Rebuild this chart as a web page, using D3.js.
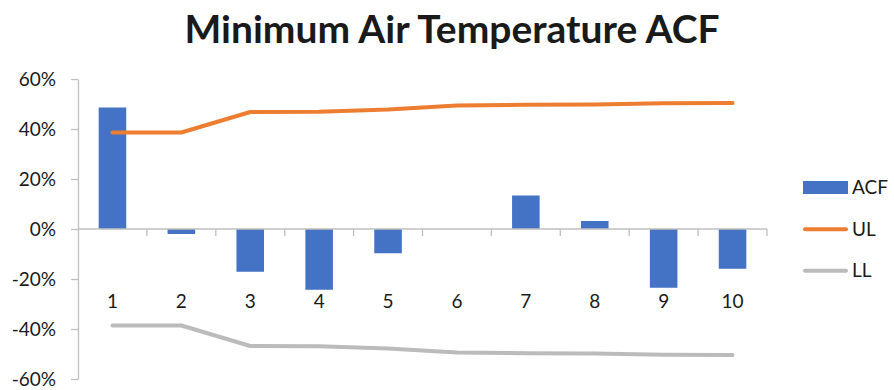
<!DOCTYPE html>
<html>
<head>
<meta charset="utf-8">
<script src="https://cdn.jsdelivr.net/npm/d3@7"></script>
<style>
  html, body { margin: 0; padding: 0; background: #fff; }
  svg { display: block; }
  text { font-family: Lato, "Open Sans", sans-serif; fill: #1a1a1a; }
</style>
</head>
<body>
<svg id="chart" width="894" height="390"></svg>
<script>
const title = "Minimum Air Temperature ACF";
const lags = ["1","2","3","4","5","6","7","8","9","10"];
const acf = [0.486, -0.020, -0.171, -0.243, -0.097, 0.000, 0.134, 0.032, -0.235, -0.159];
const ul  = [0.386, 0.386, 0.468, 0.469, 0.478, 0.494, 0.497, 0.498, 0.503, 0.504];
const ll  = [-0.386, -0.386, -0.468, -0.469, -0.478, -0.494, -0.497, -0.498, -0.503, -0.504];
const yTicks = [-0.6, -0.4, -0.2, 0, 0.2, 0.4, 0.6];
const yTickLabels = ["-60%", "-40%", "-20%", "0%", "20%", "40%", "60%"];
const seriesNames = ["ACF", "UL", "LL"];
const colors = { ACF: "#4472C4", UL: "#ED7D31", LL: "#BBBBBB" };

const svg = d3.select("#chart");
const axisColor = "#BFBFBF";

const x = d3.scaleBand().domain(lags).range([78, 767]).paddingInner(0.6).paddingOuter(0.3);
const y = d3.scaleLinear().domain([-0.6, 0.6]).range([379, 79]);
const cx = d => x(d) + x.bandwidth() / 2;

// Title
svg.append("text")
  .attr("x", 452).attr("y", 43)
  .attr("text-anchor", "middle")
  .style("font-size", "38px").style("font-weight", "bold")
  .attr("textLength", 535).attr("lengthAdjust", "spacingAndGlyphs")
  .text(title);

// Y axis
const yAxis = svg.append("g").attr("transform", "translate(78,0)")
  .call(d3.axisLeft(y).tickValues(yTicks)
    .tickFormat((d, i) => yTickLabels[i])
    .tickSizeOuter(0).tickSizeInner(7).tickPadding(15));
yAxis.select(".domain").attr("stroke", axisColor).attr("stroke-width", 1.3);
yAxis.selectAll(".tick line").attr("stroke", axisColor).attr("stroke-width", 1.3);
yAxis.selectAll(".tick text").style("font-size", "19px").style("font-family", "Lato, sans-serif").attr("fill", "#1a1a1a");

// Bars
svg.append("g").selectAll("rect").data(lags).join("rect")
  .attr("x", d => x(d))
  .attr("width", x.bandwidth())
  .attr("y", (d, i) => y(Math.max(0, acf[i])))
  .attr("height", (d, i) => Math.abs(y(acf[i]) - y(0)))
  .attr("fill", colors.ACF);

// X axis at zero
const xg = svg.append("g");
xg.append("line").attr("x1", 78).attr("x2", 767).attr("y1", y(0)).attr("y2", y(0))
  .attr("stroke", axisColor).attr("stroke-width", 1.3);
const boundaries = lags.map(d => x(d) - x.step() * x.paddingInner() / 2).slice(1).concat([767]);
xg.selectAll("line.tk").data(boundaries).join("line").attr("class", "tk")
  .attr("x1", d => d).attr("x2", d => d)
  .attr("y1", y(0)).attr("y2", y(0) + 7)
  .attr("stroke", axisColor).attr("stroke-width", 1.3);
xg.selectAll("text").data(lags).join("text")
  .attr("x", d => cx(d)).attr("y", y(0) + 79)
  .attr("text-anchor", "middle").style("font-size", "19px")
  .text(d => d);

// Lines
const line = d3.line().x((v, i) => cx(lags[i])).y(v => y(v));
[["UL", ul], ["LL", ll]].forEach(([name, vals]) => {
  svg.append("path").datum(vals)
    .attr("d", line).attr("fill", "none")
    .attr("stroke", colors[name]).attr("stroke-width", 4)
    .attr("stroke-linecap", "round").attr("stroke-linejoin", "round");
});

// Legend
const legY = [187.5, 229.3, 270.7];
const leg = svg.append("g");
seriesNames.forEach((name, i) => {
  if (name === "ACF") {
    leg.append("rect").attr("x", 803).attr("y", legY[i] - 6.5).attr("width", 45).attr("height", 13).attr("fill", colors[name]);
  } else {
    leg.append("line").attr("x1", 805).attr("x2", 846).attr("y1", legY[i]).attr("y2", legY[i])
      .attr("stroke", colors[name]).attr("stroke-width", 4).attr("stroke-linecap", "round");
  }
  leg.append("text").attr("x", 852).attr("y", legY[i]).attr("dy", "0.35em")
    .style("font-size", "19px").text(name);
});
</script>
</body>
</html>
